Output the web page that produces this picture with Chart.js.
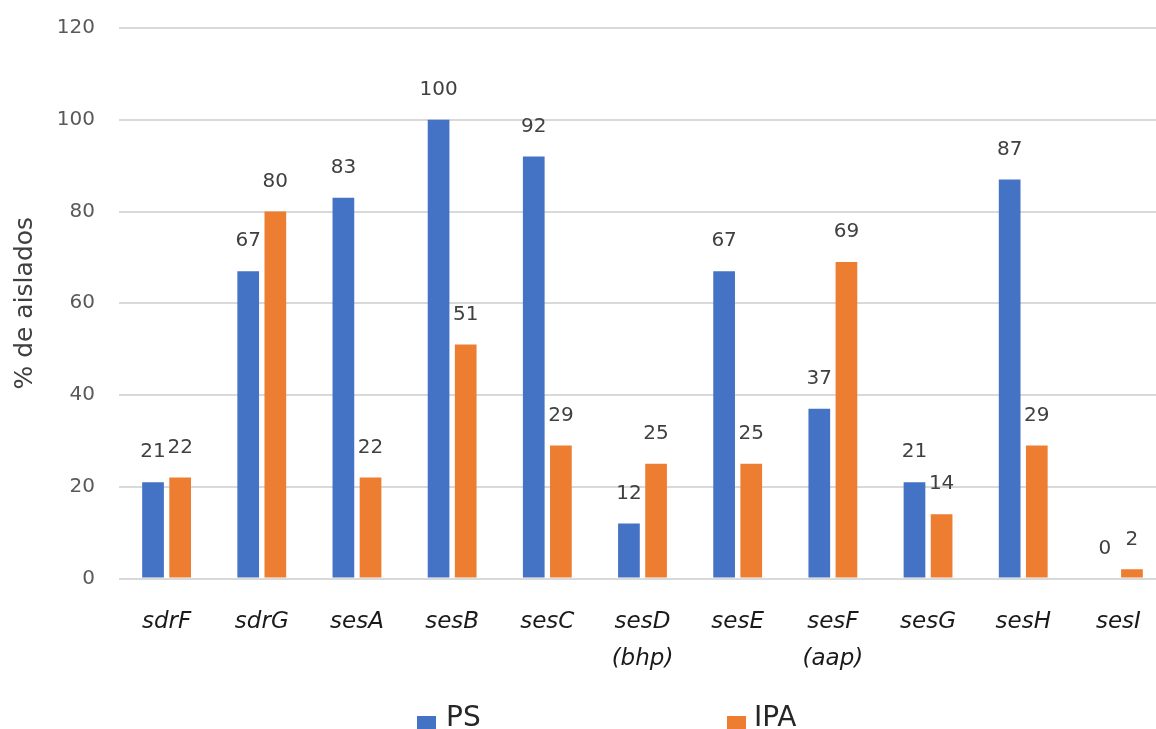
<!DOCTYPE html>
<html lang="es">
<head>
<meta charset="utf-8">
<title>% de aislados por gen</title>
<script src="https://cdn.jsdelivr.net/npm/chart.js@4.4.1/dist/chart.umd.min.js"></script>
<style>
  html, body { margin: 0; padding: 0; background: #ffffff; overflow: hidden; }
  #wrap { position: relative; width: 1166px; height: 729px; }
</style>
</head>
<body>
<div id="wrap"><canvas id="chart"></canvas></div>
<script>
// Genes analysed (two-line labels where a variant name is given)
const categories = [
  'sdrF', 'sdrG', 'sesA', 'sesB', 'sesC',
  ['sesD', '(bhp)'], 'sesE', ['sesF', '(aap)'], 'sesG', 'sesH', 'sesI'
];

// Percentage of isolates carrying each gene
const psValues  = [21, 67, 83, 100, 92, 12, 67, 37, 21, 87, 0];
const ipaValues = [22, 80, 22, 51, 29, 25, 25, 69, 14, 29, 2];

const seriesNames = ['PS', 'IPA'];
const yTicks = [0, 20, 40, 60, 80, 100, 120];

const BLUE = '#4472C4';
const ORANGE = '#ED7D31';
const FONT = '"DejaVu Sans", "Liberation Sans", sans-serif';

// Value printed above every bar
const barValueLabels = {
  id: 'barValueLabels',
  afterDatasetsDraw(chart) {
    const ctx = chart.ctx;
    ctx.save();
    ctx.font = '20px ' + FONT;
    ctx.fillStyle = '#404040';
    ctx.textAlign = 'center';
    ctx.textBaseline = 'middle';
    chart.data.datasets.forEach((ds, i) => {
      chart.getDatasetMeta(i).data.forEach((bar, j) => {
        ctx.fillText(String(ds.data[j]), bar.x, bar.y - 30);
      });
    });
    ctx.restore();
  }
};

// Legend row under the axis labels
const bottomLegend = {
  id: 'bottomLegend',
  afterDraw(chart) {
    const ctx = chart.ctx;
    const items = [
      { box: 417, text: 446 },
      { box: 727, text: 754 }
    ];
    ctx.save();
    ctx.font = '28px ' + FONT;
    ctx.textBaseline = 'alphabetic';
    ctx.textAlign = 'left';
    chart.data.datasets.forEach((ds, i) => {
      const it = items[i];
      ctx.fillStyle = ds.backgroundColor;
      ctx.fillRect(it.box, 716, 19, 20);
      ctx.fillStyle = '#262626';
      ctx.fillText(ds.label, it.text, 726);
    });
    ctx.restore();
  }
};

new Chart(document.getElementById('chart'), {
  type: 'bar',
  data: {
    labels: categories,
    datasets: [
      { label: seriesNames[0], data: psValues, backgroundColor: BLUE,
        categoryPercentage: 0.57, barPercentage: 0.8 },
      { label: seriesNames[1], data: ipaValues, backgroundColor: ORANGE,
        categoryPercentage: 0.57, barPercentage: 0.8 }
    ]
  },
  options: {
    responsive: true,
    maintainAspectRatio: false,
    animation: false,
    layout: { padding: { top: 28, right: 0, bottom: 0, left: 0 } },
    plugins: {
      legend: { display: false },
      tooltip: { enabled: false }
    },
    scales: {
      x: {
        grid: { display: false, drawTicks: false },
        border: { display: false },
        ticks: {
          padding: 25,
          color: '#1a1a1a',
          font: { family: FONT, size: 23, style: 'italic', lineHeight: 1.6 }
        },
        afterFit(scale) { scale.height = 150.5; }
      },
      y: {
        min: 0,
        max: 120,
        afterBuildTicks(scale) { scale.ticks = yTicks.map(v => ({ value: v })); },
        grid: { color: '#d9d9d9', lineWidth: 2, drawTicks: false },
        border: { display: false },
        ticks: {
          padding: 24,
          color: '#595959',
          font: { family: FONT, size: 20 }
        },
        title: {
          display: true,
          text: '% de aislados',
          color: '#404040',
          font: { family: FONT, size: 25 },
          padding: { top: 10, bottom: 0 }
        },
        afterFit(scale) {
          scale.width = 119;
          scale.paddingTop = 0;
          scale.paddingBottom = 0;
        }
      }
    }
  },
  plugins: [barValueLabels, bottomLegend]
});
</script>
</body>
</html>
